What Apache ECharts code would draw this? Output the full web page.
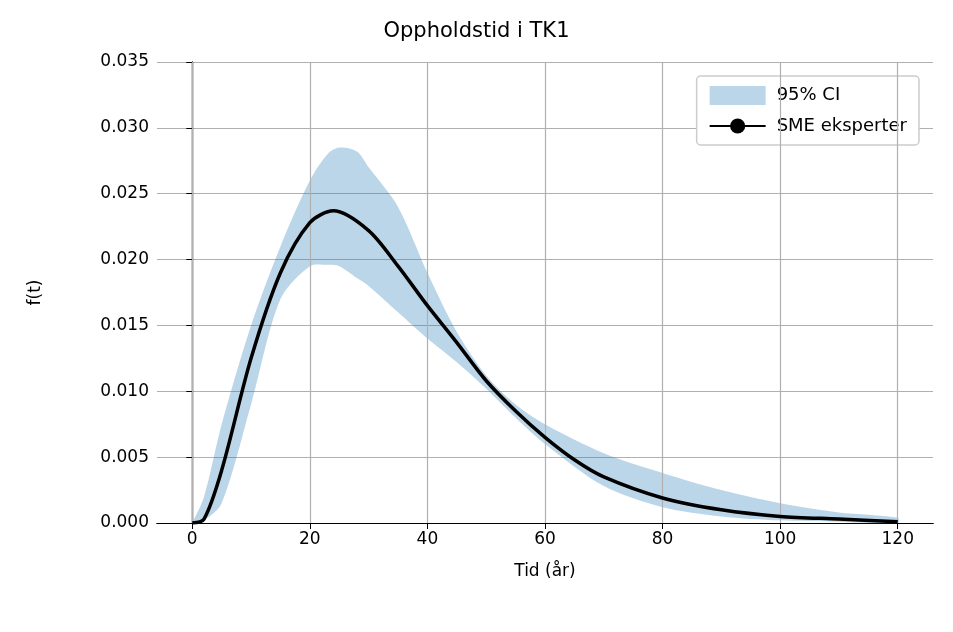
<!DOCTYPE html>
<html><head><meta charset="utf-8">
<script src="https://cdn.jsdelivr.net/npm/echarts@6/dist/echarts.min.js"></script>
<style>html,body{margin:0;padding:0;background:#fff}#c{width:953px;height:632px}</style>
</head><body><div id="c"></div>
<script>
const tVals = [0,2,5,10,15,20,24,30,35,40,45,50,55,60,65,70,80,90,100,110,120];
const smeVals = [0,0.0003,0.004,0.0125,0.019,0.0228,0.0237,0.0222,0.0195,0.0165,0.0137,0.0108,0.0085,0.0065,0.0048,0.0035,0.0019,0.0010,0.0005,0.0003,0.0001];
const bandT = [0,2,5,10,15,20,23,25,28,30,35,40,45,50,55,60,70,80,90,100,110,120];
const upperVals = [0,0.002,0.0075,0.015,0.021,0.026,0.028,0.0285,0.0282,0.027,0.024,0.019,0.0145,0.0112,0.009,0.0075,0.0053,0.0038,0.0025,0.0015,0.0008,0.0004];
const lowerVals = [0,0.0002,0.0015,0.009,0.017,0.0195,0.0196,0.0195,0.0186,0.018,0.016,0.014,0.0122,0.0102,0.008,0.006,0.0028,0.0012,0.0005,0.0002,0.0001,0];
const xTicks = [0,20,40,60,80,100,120];
const chart = echarts.init(document.getElementById('c'));
const font = 'DejaVu Sans';
chart.setOption({
  animation:false,
  textStyle:{fontFamily:font},
  title:{text:'Oppholdstid i TK1',left:'center',top:16,textStyle:{fontFamily:font,fontSize:21,fontWeight:'normal',color:'#000'}},
  grid:{left:157,right:20,top:62,bottom:109},
  legend:{right:34,top:76,orient:'vertical',itemWidth:56,itemHeight:19,itemGap:12,padding:[10,12,10,12],
    borderColor:'#ccc',borderWidth:1.5,borderRadius:4,backgroundColor:'#fff',
    textStyle:{fontFamily:font,fontSize:18,color:'#000',padding:[0,0,0,6]},
    data:[{name:'95% CI',icon:'rect',itemStyle:{color:'rgba(31,119,180,0.3)'}},{name:'SME eksperter'}]},
  xAxis:[{type:'value',min:-6,max:126,
    axisLabel:{fontSize:17,color:'#000',customValues:xTicks},
    axisTick:{customValues:xTicks,length:6,lineStyle:{color:'#000'}},
    axisLine:{lineStyle:{color:'#000',width:1.2}},
    splitLine:{show:false},
    name:'Tid (år)',nameLocation:'middle',nameGap:40,nameTextStyle:{fontSize:17,color:'#000'}},
    {type:'value',position:'top',min:-6,max:126,axisLabel:{show:false},axisTick:{show:false},splitLine:{show:false},axisLine:{show:true,lineStyle:{color:'#000',width:1.2}}}],
  yAxis:[{type:'value',min:0,max:0.035,interval:0.005,
    axisLabel:{fontSize:17,color:'#000',formatter:v=>v.toFixed(3)},
    axisTick:{show:true,length:6,lineStyle:{color:'#000'}},
    axisLine:{show:true,lineStyle:{color:'#000',width:1.2}},
    splitLine:{lineStyle:{color:'#b0b0b0',width:1.2}},
    name:'f(t)',nameLocation:'middle',nameGap:113,nameTextStyle:{fontSize:17,color:'#000'}},
    {type:'value',position:'right',min:0,max:0.035,axisLabel:{show:false},axisTick:{show:false},splitLine:{show:false},axisLine:{show:true,lineStyle:{color:'#000',width:1.2}}}],
  series:[
    {type:'line',name:'_grid',data:[],markLine:{silent:true,symbol:'none',label:{show:false},lineStyle:{color:'#b0b0b0',width:1.2,type:'solid'},data:xTicks.map(x=>({xAxis:x}))},z:0},
    {type:'custom',name:'95% CI',data:bandT.map((t,i)=>[t,lowerVals[i],upperVals[i]]),z:2,
      renderItem:(params,api)=>{
        if(params.dataIndex!==0) return null;
        const up=[],lo=[];
        for(let i=0;i<bandT.length;i++){up.push(api.coord([bandT[i],upperVals[i]]));lo.push(api.coord([bandT[i],lowerVals[i]]));}
        return {type:'polygon',shape:{points:up.concat(lo.reverse()),smooth:0.3},style:{fill:'rgba(31,119,180,0.3)'}};
      }},
    {type:'line',name:'SME eksperter',data:tVals.map((t,i)=>[t,smeVals[i]]),symbol:'none',smooth:0.3,lineStyle:{color:'#000',width:3.5},itemStyle:{color:'#000'},z:5}
  ]
});
</script></body></html>
